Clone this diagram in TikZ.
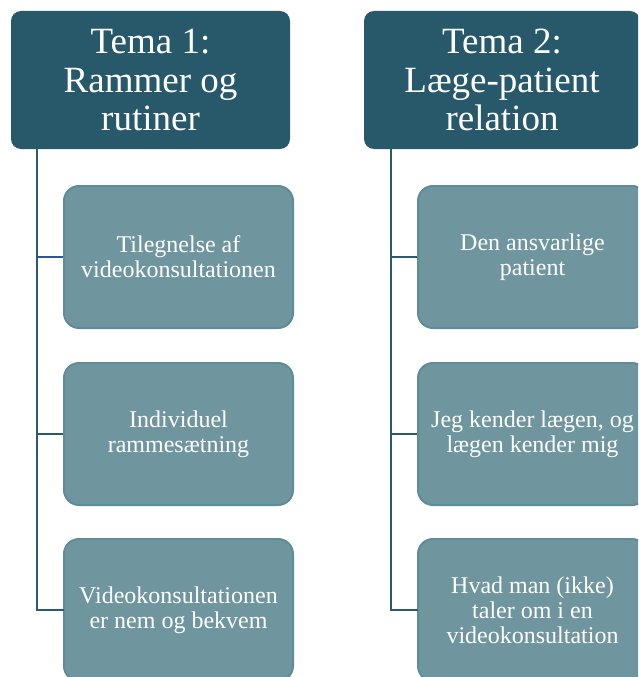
\documentclass[tikz,border=0pt]{standalone}
\usepackage{fontspec}
\setmainfont{Liberation Serif}
\usetikzlibrary{calc}
\definecolor{hdr}{HTML}{28596A}
\definecolor{kid}{HTML}{6F959F}
\definecolor{kidline}{HTML}{5E8C98}
\definecolor{conn}{HTML}{2A5A6C}
\definecolor{connb}{HTML}{2F5597}
\tikzset{
  hdrbox/.style={rectangle, rounded corners=10pt, fill=hdr, text=white, align=center,
    minimum height=138pt, inner sep=0pt, font=\fontsize{37}{38.5}\selectfont},
  kidbox/.style={rectangle, rounded corners=15pt, fill=kid, draw=kidline, line width=2pt,
    text=white, align=center, minimum width=229pt, minimum height=142pt, inner sep=0pt,
    font=\fontsize{24}{25}\selectfont},
  connline/.style={draw=conn, line width=2.2pt},
}
\begin{document}
\begin{tikzpicture}[x=1pt,y=-1pt]
\useasboundingbox (0,0) rectangle (638,677);
\clip (0,0) rectangle (638,677);
\node[hdrbox, minimum width=279pt] (h1) at (150.5,80) {Tema 1:\\Rammer og\\rutiner};
\node[hdrbox, minimum width=276pt] (h2) at (502,80) {Tema 2:\\Læge-patient\\relation};

\node[kidbox] (a1) at (178.5,257) {Tilegnelse af\\videokonsultationen};
\node[kidbox] (a2) at (178.5,434) {Individuel\\rammesætning};
\node[kidbox] (a3) at (178.5,610) {Videokonsultationen\\er nem og bekvem};

\node[kidbox] (b1) at (532.5,257) {Den ansvarlige\\patient};
\node[kidbox] (b2) at (532.5,434) {Jeg kender lægen, og\\lægen kender mig};
\node[kidbox] (b3) at (532.5,610) {Hvad man (ikke)\\taler om i en\\videokonsultation};

\coordinate (t1) at ($(h1.south west)+(26,0)$);
\coordinate (t2) at ($(h2.south west)+(27,0)$);

\draw[connline, line cap=rect] (t1) |- (a3.west);
\draw[draw=connb, line width=2.2pt] (t1 |- a1.west) -- (a1.west);
\draw[connline] (t1 |- a2.west) -- (a2.west);
\draw[connline, line cap=rect] (t2) |- (b3.west);
\draw[connline] (t2 |- b1.west) -- (b1.west);
\draw[connline] (t2 |- b2.west) -- (b2.west);
\end{tikzpicture}
\end{document}
